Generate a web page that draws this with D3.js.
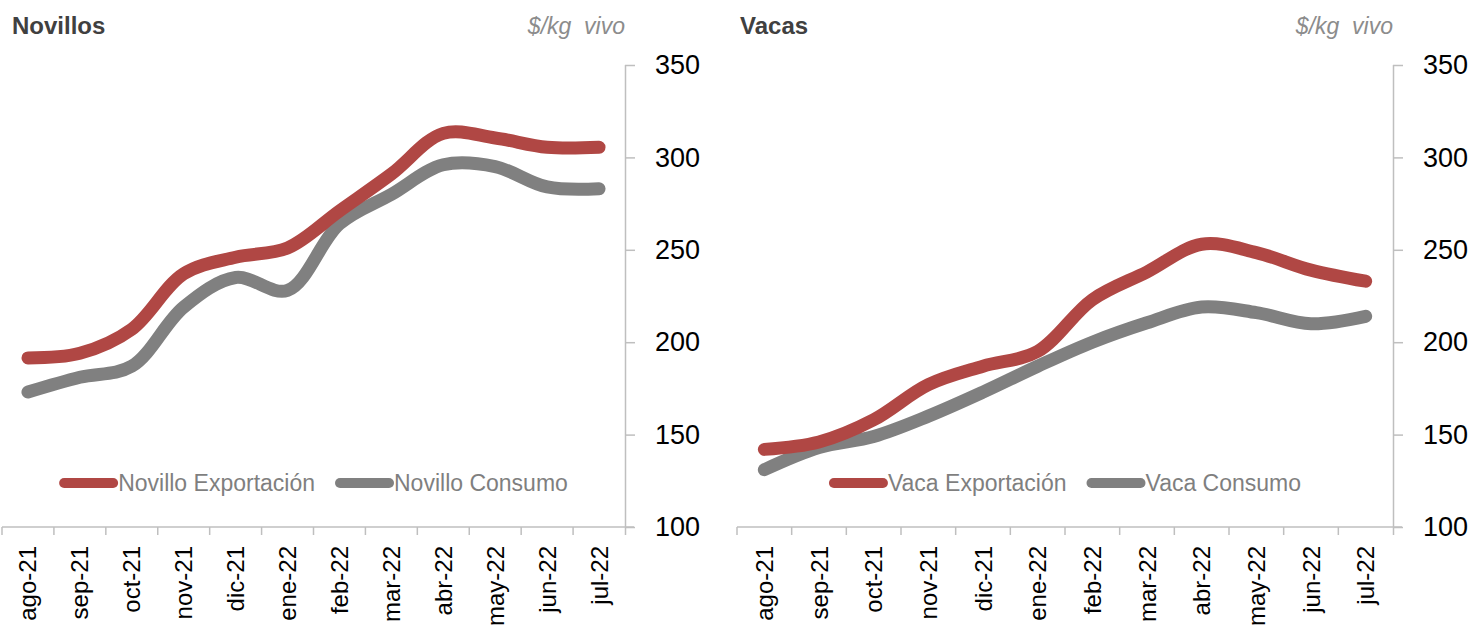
<!DOCTYPE html>
<html>
<head>
<meta charset="utf-8">
<script src="https://cdn.jsdelivr.net/npm/d3@7"></script>
<style>
  body { margin: 0; background: #fff; }
  text { font-family: "Liberation Sans", Arial, sans-serif; }
</style>
</head>
<body>
<script>
var categorias = ["ago-21","sep-21","oct-21","nov-21","dic-21","ene-22","feb-22","mar-22","abr-22","may-22","jun-22","jul-22"];
var novilloExportacion = [191.5, 194, 207, 237, 246, 251, 271, 291, 313, 310.5, 305.5, 305.5];
var novilloConsumo = [173, 181, 187, 219, 235, 228, 264, 280, 296, 295, 284, 283];
var vacaExportacion = [142, 146, 158, 177, 187, 195, 223, 238, 253, 248.5, 239, 233];
var vacaConsumo = [131, 143, 149, 160, 173, 187, 200, 210.5, 219, 216, 210, 214];
var ticksY = [100, 150, 200, 250, 300, 350];

var rojo = "#b04744";
var gris = "#808080";
var ejeColor = "#bfbfbf";

var svg = d3.select("body").append("svg").attr("width", 1475).attr("height", 631);

function drawPanel(left, right, tituloX, titulo, serieA, serieB, nombreA, nombreB){
  var top = 65, bottom = 527;
  var x = d3.scaleBand().domain(categorias).range([left, right]);
  var y = d3.scaleLinear().domain([100, 350]).range([bottom, top]);
  var g = svg.append("g");

  // titulo y unidad
  g.append("text").text(titulo)
    .attr("x", tituloX).attr("y", 34)
    .attr("font-size", 24).attr("font-weight", "bold").attr("fill", "#404040");
  g.append("text").text("$/kg  vivo")
    .attr("x", right).attr("y", 34).attr("text-anchor", "end")
    .attr("font-size", 23).attr("font-style", "italic").attr("fill", "#8c8c8c")
    .style("white-space", "pre");

  // eje y a la derecha
  var ejeY = g.append("g").attr("transform", "translate(" + right + ",0)")
    .call(d3.axisRight(y).tickValues(ticksY).tickSize(10).tickPadding(20));
  ejeY.select(".domain").attr("stroke", ejeColor).attr("stroke-width", 1.5)
    .attr("d", "M0.5," + top + "V" + (bottom + 8));
  ejeY.selectAll(".tick line").attr("stroke", ejeColor).attr("stroke-width", 1.5);
  ejeY.selectAll(".tick text").attr("font-size", 27).attr("fill", "#000")
    .attr("font-family", "Liberation Sans, Arial, sans-serif");

  // eje x
  g.append("line")
    .attr("x1", left).attr("x2", right + 9)
    .attr("y1", bottom).attr("y2", bottom)
    .attr("stroke", ejeColor).attr("stroke-width", 1.5);
  var bordes = categorias.map(function(c){ return x(c); });
  g.selectAll(".tickx").data(bordes).enter().append("line")
    .attr("x1", function(d){ return d; }).attr("x2", function(d){ return d; })
    .attr("y1", bottom).attr("y2", bottom + 8)
    .attr("stroke", ejeColor).attr("stroke-width", 1.5);
  g.selectAll(".labx").data(categorias).enter().append("text")
    .text(function(d){ return d; })
    .attr("transform", function(d){
      return "translate(" + (x(d) + x.bandwidth() / 2) + "," + (bottom + 19) + ") rotate(-90)";
    })
    .attr("text-anchor", "end").attr("dominant-baseline", "central")
    .attr("font-size", 24).attr("fill", "#000");

  // lineas
  var linea = d3.line()
    .x(function(d, i){ return x(categorias[i]) + x.bandwidth() / 2; })
    .y(function(d){ return y(d); })
    .curve(d3.curveCatmullRom.alpha(0.5));

  g.append("path").datum(serieB).attr("d", linea)
    .attr("fill", "none").attr("stroke", gris).attr("stroke-width", 13)
    .attr("stroke-linecap", "round").attr("stroke-linejoin", "round");
  g.append("path").datum(serieA).attr("d", linea)
    .attr("fill", "none").attr("stroke", rojo).attr("stroke-width", 13)
    .attr("stroke-linecap", "round").attr("stroke-linejoin", "round");

  // leyenda centrada
  var ly = 483;
  var leg = g.append("g");
  var items = [{n: nombreA, c: rojo}, {n: nombreB, c: gris}];
  var cx = 0;
  items.forEach(function(it, i){
    leg.append("line")
      .attr("x1", cx + 5).attr("x2", cx + 54)
      .attr("y1", ly).attr("y2", ly)
      .attr("stroke", it.c).attr("stroke-width", 10).attr("stroke-linecap", "round");
    var t = leg.append("text").text(it.n)
      .attr("x", cx + 59).attr("y", ly)
      .attr("dominant-baseline", "central")
      .attr("font-size", 23).attr("fill", "#7f7f7f");
    cx = cx + 59 + t.node().getComputedTextLength() + 20;
  });
  var ancho = cx - 20;
  leg.attr("transform", "translate(" + ((left + right) / 2 - ancho / 2) + ",0)");
}

drawPanel(2, 625, 12, "Novillos", novilloExportacion, novilloConsumo, "Novillo Exportación", "Novillo Consumo");
drawPanel(737, 1393, 740, "Vacas", vacaExportacion, vacaConsumo, "Vaca Exportación", "Vaca Consumo");
</script>
</body>
</html>
